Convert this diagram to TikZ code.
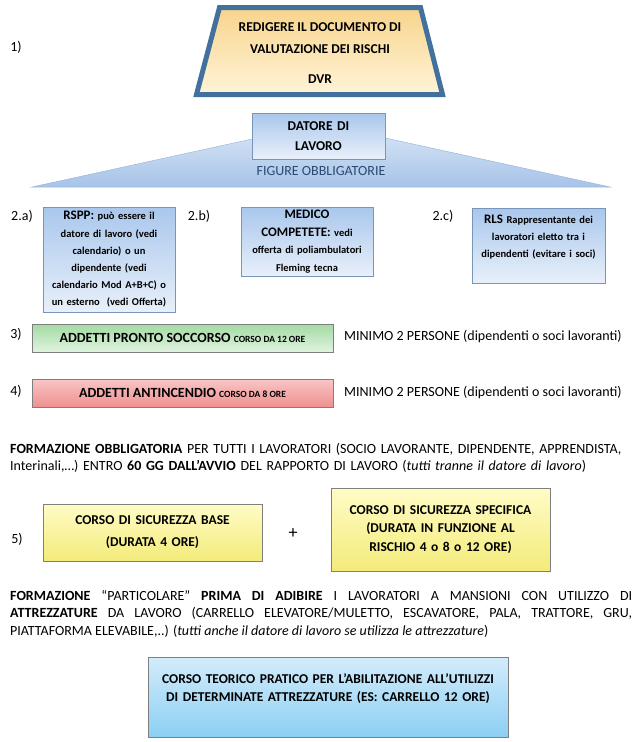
\documentclass[tikz,border=0pt]{standalone}
\usepackage{fontspec}
\setmainfont{Carlito}
\usetikzlibrary{positioning}
\definecolor{DvrEdge}{HTML}{41719C}
\definecolor{DvrTop}{HTML}{F8D48C}
\definecolor{DvrBottom}{HTML}{FFF4D8}
\definecolor{FigEdge}{HTML}{7A95BA}
\definecolor{FigTop}{HTML}{A9C7EC}
\definecolor{FigBottom}{HTML}{E8F0FA}
\definecolor{FanEdge}{HTML}{9DB7DC}
\definecolor{FanTop}{HTML}{DCE8F7}
\definecolor{FanBottom}{HTML}{A6C3E8}
\definecolor{FanText}{HTML}{2B4A72}
\definecolor{AidTop}{HTML}{A3DAA3}
\definecolor{AidBottom}{HTML}{E0F3E0}
\definecolor{FireTop}{HTML}{F8C6C6}
\definecolor{FireBottom}{HTML}{F08F8F}
\definecolor{BaseTop}{HTML}{FFFCC6}
\definecolor{BaseBottom}{HTML}{F3EB7A}
\definecolor{SkyTop}{HTML}{D3ECFB}
\definecolor{SkyBottom}{HTML}{8CCFF4}
\definecolor{BoxEdge}{HTML}{7F7F7F}

\begin{document}
\begin{tikzpicture}[x=1pt,y=-1pt,
          itemno/.style={inner sep=0pt,font=\fontsize{14}{17}\selectfont},
          dvrframe/.style={draw=DvrEdge,line width=5pt,top color=DvrTop,
                           bottom color=DvrBottom},
          dvrtext/.style={align=center,inner sep=0pt,
                          font=\fontsize{13.5}{22}\selectfont\bfseries},
          fan/.style={draw=FanEdge,line width=0.5pt,top color=FanTop,
                      bottom color=FanBottom},
          fantext/.style={inner sep=0pt,text=FanText,
                          font=\fontsize{14}{17}\selectfont},
          figbox/.style={draw=FigEdge,line width=0.6pt,top color=FigTop,
                         bottom color=FigBottom,align=center,inner xsep=2pt,
                         inner ysep=0pt,font=\fontsize{10.5}{17.2}\selectfont\bfseries},
          bar/.style={draw=BoxEdge,line width=0.6pt,minimum width=301pt,
                      minimum height=28pt,inner sep=0pt,
                      font=\fontsize{14}{17}\selectfont\bfseries},
          aid/.style={bar,top color=AidTop,bottom color=AidBottom},
          fire/.style={bar,top color=FireTop,bottom color=FireBottom},
          note/.style={anchor=west,inner sep=0pt,font=\fontsize{14}{17}\selectfont},
          para/.style={anchor=north west,inner sep=0pt,
                       font=\fontsize{14}{17}\selectfont},
          course/.style={draw=BoxEdge,line width=0.6pt,top color=BaseTop,
                         bottom color=BaseBottom,text width=219pt,align=center,
                         inner sep=0pt},
          machine/.style={draw=BoxEdge,line width=0.6pt,top color=SkyTop,
                          bottom color=SkyBottom,text width=360pt,
                          minimum height=80pt,align=center,inner sep=0pt,
                          font=\fontsize{13.5}{18}\selectfont\bfseries}]
        \useasboundingbox (0,0) rectangle (643,742);
        % 1) risk assessment document
        \node[itemno] (n1) at (16,47) {1)};
        \draw[dvrframe] (219.5,7.5) -- (420.5,7.5) -- (442.5,94.5)
          -- (196.5,94.5) -- cycle;
        \node[dvrtext] (dvr) at (320,53)
          {REDIGERE IL DOCUMENTO DI\\VALUTAZIONE DEI RISCHI\\[8pt]DVR};
        % employer and the fan of mandatory figures
        \draw[fan] (32,187) -- (321,124) -- (610,187) -- cycle;
        \node[figbox,text width=129pt,minimum height=46pt,
              font=\fontsize{13.5}{20}\selectfont\bfseries] (employer)
          at (318.5,136) {DATORE DI\\LAVORO};
        \node[fantext] (mandatory) at (321,171) {FIGURE OBBLIGATORIE};
        % 2) the three figures
        \node[itemno] (n2a) at (22,216) {2.a)};
        \node[itemno] (n2b) at (199,216) {2.b)};
        \node[itemno] (n2c) at (443,216) {2.c)};
        \node[figbox,text width=128pt,minimum height=105pt] (rspp) at (109,259.5)
          {{\fontsize{13}{16}\selectfont RSPP:} può essere il\\datore di lavoro (vedi\\
           calendario) o un\\dipendente (vedi\\calendario Mod A+B+C) o\\
           un esterno\ \ (vedi Offerta)};
        \node[figbox,text width=128pt,minimum height=69pt,
              font=\fontsize{10.5}{17.5}\selectfont\bfseries] (medico) at (307,241.5)
          {{\fontsize{13}{16}\selectfont MEDICO}\\
           {\fontsize{13}{16}\selectfont COMPETETE:} vedi\\
           offerta di poliambulatori\\Fleming tecna};
        \node[figbox,text width=129pt,minimum height=75pt] (rls) at (538.5,245.5)
          {{\fontsize{13}{16}\selectfont RLS} Rappresentante dei\\
           lavoratori eletto tra i\\dipendenti (evitare i soci)\rule[-18pt]{0pt}{18pt}};
        % 3) and 4) emergency teams
        \node[itemno] (n3) at (16,334) {3)};
        \node[aid] (firstaid) at (182.5,338)
          {ADDETTI PRONTO SOCCORSO {\fontsize{9.5}{11}\selectfont CORSO DA 12 ORE}};
        \node[note] (firstaidmin) at (344,337)
          {MINIMO 2 PERSONE (dipendenti o soci lavoranti)};
        \node[itemno] (n4) at (16,391) {4)};
        \node[fire] (firefight) at (182.5,393)
          {ADDETTI ANTINCENDIO {\fontsize{9.5}{11}\selectfont CORSO DA 8 ORE}};
        \node[note] (firefightmin) at (344,393)
          {MINIMO 2 PERSONE (dipendenti o soci lavoranti)};
        % general training
        \node[para,text width=632pt,align=left] (trainall) at (10,443)
          {\textbf{FORMAZIONE OBBLIGATORIA} PER TUTTI I LAVORATORI (SOCIO LAVORANTE,
           DIPENDENTE, APPRENDISTA,\\Interinali,…) ENTRO \textbf{60 GG DALL’AVVIO}
           DEL RAPPORTO DI LAVORO (\textit{tutti tranne il datore di lavoro})};
        % 5) base and specific courses
        \node[itemno] (n5) at (17,539) {5)};
        \node[course,minimum height=57pt,
              font=\fontsize{13.5}{22}\selectfont\bfseries] (basecourse)
          at (152.5,532.5) {CORSO DI SICUREZZA BASE\\(DURATA 4 ORE)};
        \node[inner sep=0pt,font=\fontsize{18}{20}\selectfont] (plus) at (293,534) {+};
        \node[course,minimum height=83pt,
              font=\fontsize{13.5}{18.5}\selectfont\bfseries] (specific)
          at (440.5,529.5)
          {CORSO DI SICUREZZA SPECIFICA\\(DURATA IN FUNZIONE AL\\
           RISCHIO 4 o 8 o 12 ORE)};
        % special training for equipment
        \node[para,text width=622pt,align=justify,
              font=\fontsize{14}{17.5}\selectfont] (trainspecial) at (10,590)
          {\textbf{FORMAZIONE} “PARTICOLARE” \textbf{PRIMA DI ADIBIRE} I LAVORATORI
           A MANSIONI CON UTILIZZO DI\linebreak \textbf{ATTREZZATURE} DA LAVORO
           (CARRELLO ELEVATORE/MULETTO, ESCAVATORE, PALA, TRATTORE, GRU,\linebreak
           PIATTAFORMA ELEVABILE,..) (\textit{tutti anche il datore di lavoro se
           utilizza le attrezzature})};
        \node[machine] (equipment) at (328,697)
          {CORSO TEORICO PRATICO PER L’ABILITAZIONE ALL’UTILIZZI\\
           DI DETERMINATE ATTREZZATURE (ES: CARRELLO 12 ORE)\rule[-18pt]{0pt}{18pt}};
      \end{tikzpicture}
\end{document}
